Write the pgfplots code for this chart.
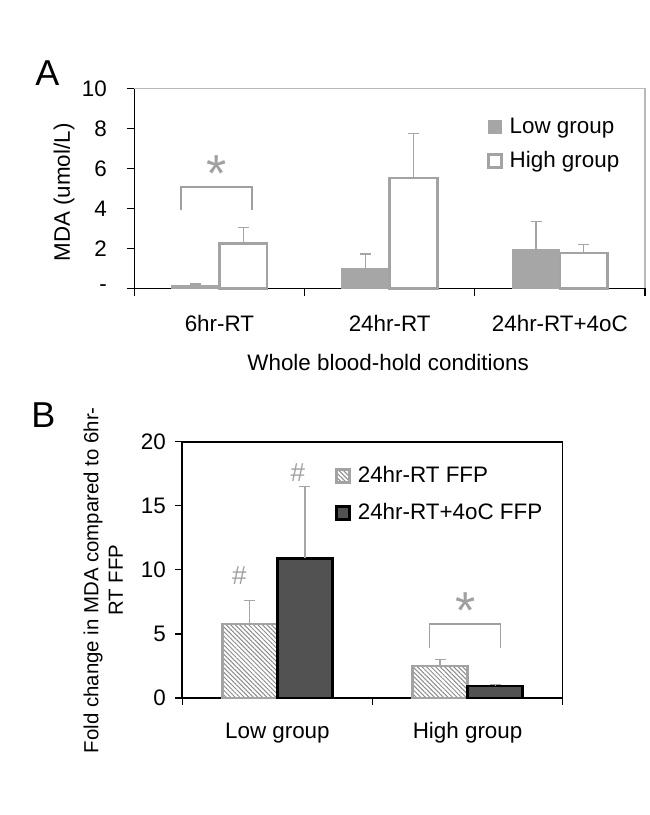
\documentclass[border=0pt]{standalone}
\usepackage{pgfplots}
\pgfplotsset{compat=1.18}
\usepackage{fontspec}
\setmainfont{Liberation Sans}
\usetikzlibrary{patterns.meta}
\definecolor{lowfill}{RGB}{166,166,166}
\definecolor{edgegray}{RGB}{163,163,163}
\definecolor{hatchgray}{RGB}{140,140,140}
\definecolor{errgray}{RGB}{165,165,165}
\definecolor{framegray}{RGB}{185,185,185}
\definecolor{darkfill}{RGB}{82,82,82}
\definecolor{markgray}{RGB}{160,160,160}
\newcommand\ft{\fontsize{11.2}{13}\selectfont}
\newcommand\ylfont{\fontsize{10.2}{10.8}\selectfont}
\pgfplotsset{
  errbars/.style={error bars/.cd, y dir=plus, y explicit,
    error bar style={errgray, line width=0.6pt},
    error mark options={errgray, rotate=90, mark size=2.75pt, line width=0.6pt}},
  sqleg/.style={legend image code/.code={\draw[##1] (0pt,-3.25pt) rectangle (6.5pt,3.25pt);}},
}
\begin{document}
\begin{tikzpicture}
\useasboundingbox (0,0) rectangle (324.5pt,-407.5pt);
\node[font=\fontsize{18}{20}\selectfont] at (23.75pt,-36.5pt) {A};
\node[font=\fontsize{18}{20}\selectfont] at (21.65pt,-207.75pt) {B};

\begin{axis}[
  at={(67.15pt,-144.15pt)}, anchor=south west,
  scale only axis, width=255.35pt, height=100pt,
  xmin=-0.5, xmax=2.5, ymin=0, ymax=10,
  axis x line*=bottom, axis y line*=left,
  axis line style={black, line width=0.6pt},
  ybar, bar width=0.28,
  ytick={0,2,4,6,8,10}, yticklabels={-,2,4,6,8,10},
  xtick={-0.5,0.5,1.5,2.5}, xticklabels={},
  extra x ticks={0,1,2}, extra x tick labels={6hr-RT,24hr-RT,24hr-RT+4oC},
  extra x tick style={major tick length=0pt, xticklabel style={yshift=-9.8pt}},
  tick align=outside, major tick length=3.75pt,
  tick style={black, line width=0.6pt},
  tick label style={font=\ft},
  /pgf/number format/assume math mode=true,
  yticklabel style={xshift=-6.5pt},
  xlabel={Whole blood-hold conditions},
  xlabel style={at={(axis description cs:0.497,-0.371)}, anchor=center, font=\ft},
  ylabel={MDA (umol/L)},
  ylabel style={at={(axis description cs:-0.1377,0.479)}, anchor=center, font=\ft},
  legend cell align=left,
  legend style={at={(0.690,0.855)}, anchor=north west, draw=none, fill=none,
    inner sep=0pt, row sep=7.5pt, column sep=3.5pt, font=\ft, nodes={inner sep=0pt}},
  clip=false,
]
\addplot[fill=lowfill, draw=lowfill, line width=0.5pt, bar shift=-0.14, sqleg, errbars]
  table[x=x, y=y, y error=e] {
x y e
0 0.15 0.07
1 1.01 0.71
2 1.95 1.40
};
\addlegendentry{Low group}
\addplot[fill=white, draw=edgegray, line width=1.3pt, bar shift=0.14, sqleg, errbars]
  table[x=x, y=y, y error=e] {
x y e
0 2.24 0.79
1 5.52 2.22
2 1.77 0.42
};
\addlegendentry{High group}
\draw[framegray, line width=0.6pt] (rel axis cs:0,1) -- (rel axis cs:1,1) -- (rel axis cs:1,0);
\draw[markgray, line width=0.6pt] (axis cs:-0.226,3.9) -- (axis cs:-0.226,5.07) -- (axis cs:0.191,5.07) -- (axis cs:0.191,3.9);
\node[markgray, anchor=base, font=\fontsize{26}{28}\selectfont, inner sep=0pt] at (axis cs:-0.015,4.82) {*};
\end{axis}

\begin{axis}[
  at={(91.15pt,-349pt)}, anchor=south west,
  scale only axis, width=190.2pt, height=128.15pt,
  xmin=-0.5, xmax=1.5, ymin=0, ymax=20,
  axis line style={black, line width=0.8pt},
  ybar, bar width=0.29,
  ytick={0,5,10,15,20},
  xtick={-0.5,0.5,1.5}, xticklabels={},
  extra x ticks={0,1}, extra x tick labels={Low group,High group},
  extra x tick style={major tick length=0pt, xticklabel style={yshift=-8.8pt}},
  xtick pos=left, ytick pos=left,
  tick align=outside, major tick length=3.5pt,
  tick style={black, line width=0.6pt},
  tick label style={font=\ft},
  /pgf/number format/assume math mode=true,
  yticklabel style={xshift=-1.25pt},
  ylabel={Fold change in MDA compared to 6hr-\\[1.5pt]RT FFP},
  ylabel style={at={(axis description cs:-0.208,0.46)}, anchor=center, align=center,
    font=\ylfont},
  legend cell align=left,
  legend style={at={(0.401,0.905)}, anchor=north west, draw=none, fill=none,
    inner sep=0pt, row sep=8.8pt, column sep=3.5pt, font=\ft, nodes={inner sep=0pt}},
  clip=false,
]
\addplot[pattern={Lines[angle=-45, distance=1.6pt, line width=0.5pt]}, pattern color=hatchgray,
  draw=edgegray, line width=1.3pt, bar shift=-0.145, sqleg, errbars]
  table[x=x, y=y, y error=e] {
x y e
0 5.77 1.85
1 2.50 0.52
};
\addlegendentry{24hr-RT FFP}
\addplot[fill=darkfill, draw=black, line width=1.3pt, bar shift=0.145, sqleg, errbars]
  table[x=x, y=y, y error=e] {
x y e
0 10.90 5.58
1 0.94 0.13
};
\addlegendentry{24hr-RT+4oC FFP}
\draw[markgray, line width=0.6pt] (axis cs:0.8,3.92) -- (axis cs:0.8,5.77) -- (axis cs:1.171,5.77) -- (axis cs:1.171,3.92);
\node[markgray, anchor=base, font=\fontsize{26}{28}\selectfont, inner sep=0pt] at (axis cs:0.987,5.39) {*};
\node[markgray, anchor=base, font=\fontsize{13}{15}\selectfont, inner sep=0pt] at (axis cs:-0.2,8.85) {\#};
\node[markgray, anchor=base, font=\fontsize{13}{15}\selectfont, inner sep=0pt] at (axis cs:0.108,16.88) {\#};
\end{axis}
\end{tikzpicture}
\end{document}
